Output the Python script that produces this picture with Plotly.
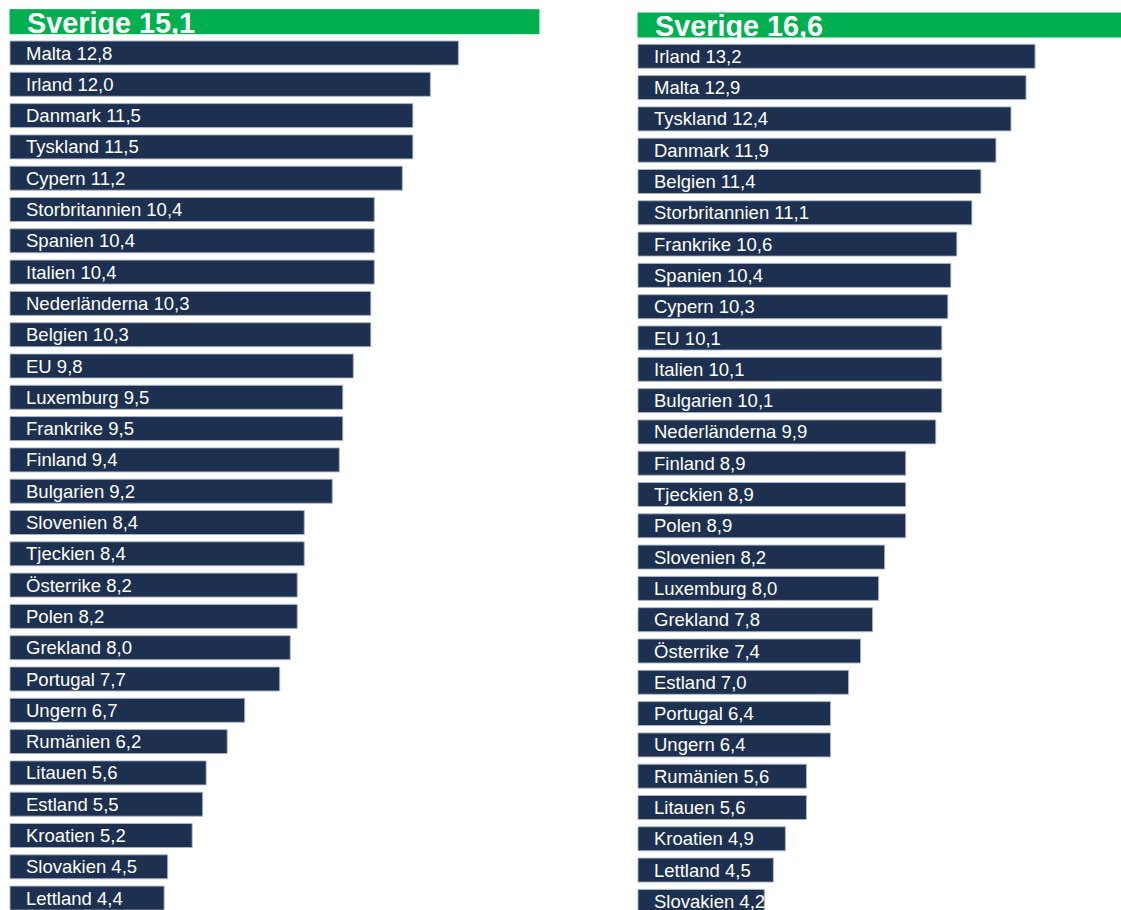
import plotly.graph_objects as go

# ---- data ----
left_names = ["Sverige", "Malta", "Irland", "Danmark", "Tyskland", "Cypern", "Storbritannien",
              "Spanien", "Italien", "Nederländerna", "Belgien", "EU", "Luxemburg", "Frankrike",
              "Finland", "Bulgarien", "Slovenien", "Tjeckien", "Österrike", "Polen", "Grekland",
              "Portugal", "Ungern", "Rumänien", "Litauen", "Estland", "Kroatien", "Slovakien", "Lettland"]
left_values = [15.1, 12.8, 12.0, 11.5, 11.5, 11.2, 10.4, 10.4, 10.4, 10.3, 10.3, 9.8, 9.5, 9.5,
               9.4, 9.2, 8.4, 8.4, 8.2, 8.2, 8.0, 7.7, 6.7, 6.2, 5.6, 5.5, 5.2, 4.5, 4.4]

right_names = ["Sverige", "Irland", "Malta", "Tyskland", "Danmark", "Belgien", "Storbritannien",
               "Frankrike", "Spanien", "Cypern", "EU", "Italien", "Bulgarien", "Nederländerna",
               "Finland", "Tjeckien", "Polen", "Slovenien", "Luxemburg", "Grekland", "Österrike",
               "Estland", "Portugal", "Ungern", "Rumänien", "Litauen", "Kroatien", "Lettland", "Slovakien"]
right_values = [16.6, 13.2, 12.9, 12.4, 11.9, 11.4, 11.1, 10.6, 10.4, 10.3, 10.1, 10.1, 10.1, 9.9,
                8.9, 8.9, 8.9, 8.2, 8.0, 7.8, 7.4, 7.0, 6.4, 6.4, 5.6, 5.6, 4.9, 4.5, 4.2]

GREEN = "#00B050"
NAVY = "#1D3050"
W, H = 1121, 910
FONT = "Liberation Sans, Arial, sans-serif"


def label(n, v):
    return f"{n} {v:.1f}".replace(".", ",")


fig = go.Figure()

panels = [
    # names, values, xaxis, yaxis, zero px, px/unit, first center px
    (left_names, left_values, "x", "y", 10.0, 35.03, 21.7),
    (right_names, right_values, "x2", "y2", 638.0, 30.08, 25.0),
]

pitch = 31.3
barh = 24.0
FS, BFS = 18.5, 28.8

for idx, (names, vals, xa, ya, x0px, ppu, c0) in enumerate(panels):
    ys = list(range(len(names)))
    colors = [GREEN if n == "Sverige" else NAVY for n in names]
    lcolors = [GREEN if n == "Sverige" else "rgba(170,182,202,0.9)" for n in names]
    fig.add_trace(go.Bar(
        x=vals, y=ys, orientation="h", xaxis=xa, yaxis=ya,
        marker=dict(color=colors, line=dict(color=lcolors, width=1)),
        width=barh / pitch, hoverinfo="skip", showlegend=False,
    ))
    for n, v, yv in zip(names, vals, ys):
        big = n == "Sverige"
        fig.add_annotation(
            x=0, y=yv, xref=xa, yref=ya,
            text=("<b>%s</b>" % label(n, v)) if big else label(n, v),
            showarrow=False, xanchor="left", yanchor="middle",
            xshift=14.5 if big else 14, yshift=-1 if big else 0,
            font=dict(family=FONT, size=BFS if big else FS, color="white"),
        )

layout = dict(
    width=W, height=H, margin=dict(l=0, r=0, t=0, b=0),
    paper_bgcolor="white", plot_bgcolor="white",
    font=dict(family=FONT),
)
split = 560.5 / W
for idx, (names, vals, xa, ya, x0px, ppu, c0) in enumerate(panels):
    d0, d1 = (0.0, split) if idx == 0 else (split, 1.0)
    px0, px1 = d0 * W, d1 * W
    xr = [(px0 - x0px) / ppu, (px1 - x0px) / ppu]
    yr = [(H - c0) / pitch, -c0 / pitch]
    xkey = "xaxis" if idx == 0 else "xaxis2"
    ykey = "yaxis" if idx == 0 else "yaxis2"
    layout[xkey] = dict(domain=[d0, d1], range=xr, visible=False, fixedrange=True)
    layout[ykey] = dict(domain=[0, 1], range=yr, visible=False, fixedrange=True,
                        anchor="x" if idx == 0 else "x2")
    if idx == 1:
        layout[xkey]["anchor"] = "y2"

fig.update_layout(**layout)
fig.write_html(
    "out.html",
    config={"displayModeBar": False},
    post_script="document.body.style.margin='0';document.body.style.overflow='hidden';",
)
